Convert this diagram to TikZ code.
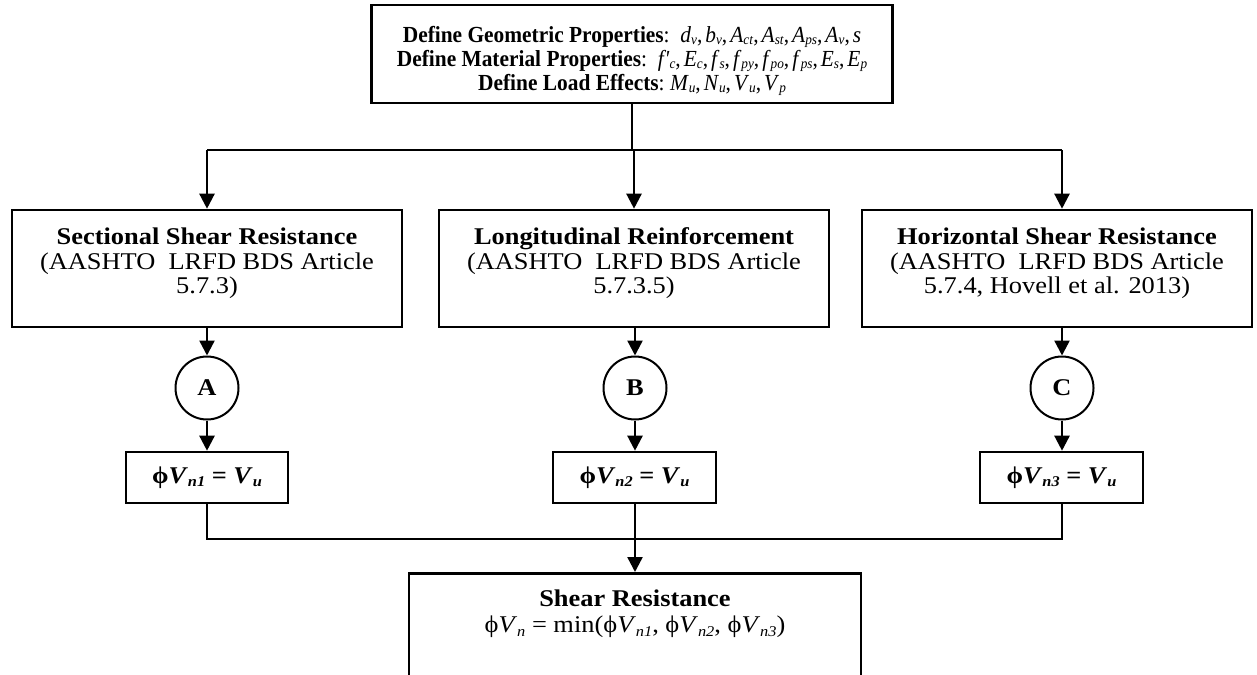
\documentclass[tikz,border=0pt]{standalone}
\usepackage{fontspec}
\usepackage{graphicx}
\setmainfont{Liberation Serif}
\newfontfamily\wf[FakeStretch=1.1]{Liberation Serif}
\newfontfamily\nf[FakeStretch=0.93]{Liberation Serif}
\usetikzlibrary{arrows.meta,calc}
% subscript helpers
\newcommand\sbs[1]{\raisebox{-0.28ex}{\scalebox{0.62}{#1}}}
\newcommand\iv[2]{\textit{#1}\sbs{\textit{#2}}}
\newcommand\biv[2]{\textbf{\textit{#1}\sbs{\textbf{\textit{#2}}}}}
\newcommand\cs{,\kern3pt}
\tikzset{
  box/.style={draw, line width=2.6pt, align=center, inner sep=0pt, font=\wf\fontsize{24}{24.5}\selectfont},
  topbox/.style={draw, line width=2.6pt, align=center, inner sep=0pt, font=\nf\fontsize{23}{24}\selectfont},
  circ/.style={draw, circle, line width=2pt, minimum size=63pt, inner sep=0pt, font=\wf\fontsize{24}{24.5}\selectfont\bfseries},
  conn/.style={line width=2.4pt},
  arr/.style={line width=2.4pt, -{Triangle[width=15pt,length=15pt]}}
}
\begin{document}
\begin{tikzpicture}[x=1pt,y=-1pt]
\clip (0,0) rectangle (1257,674);
\fill[white] (0,0) rectangle (1257,674);
\node[topbox, minimum width=521pt, minimum height=98pt] (top) at (632,54)
 {\rule{0pt}{30pt}\textbf{Define Geometric Properties}:\ \ \iv{d}{v}\cs\iv{b}{v}\cs\iv{A}{ct}\cs\iv{A}{st}\cs\iv{A}{ps}\cs\iv{A}{v}\cs\textit{s}\\
  \textbf{Define Material Properties}:\ \ \iv{f\kern1pt'}{c}\cs\iv{E}{c}\cs\iv{f}{s}\cs\iv{f}{py}\cs\iv{f}{po}\cs\iv{f}{ps}\cs\iv{E}{s}\cs\iv{E}{p}\\
  \textbf{Define Load Effects}:\ \iv{M}{u}\cs\iv{N}{u}\cs\iv{V}{u}\cs\iv{V}{p}};
\node[box, minimum width=390pt, minimum height=117pt] (sA) at (207,268.5)
 {\textbf{Sectional Shear Resistance}\\(AASHTO\ \ LRFD BDS Article\\5.7.3)\rule[-15pt]{0pt}{0pt}};
\node[box, minimum width=390pt, minimum height=117pt] (sB) at (634,268.5)
 {\textbf{Longitudinal Reinforcement}\\(AASHTO\ \ LRFD BDS Article\\5.7.3.5)\rule[-15pt]{0pt}{0pt}};
\node[box, minimum width=390pt, minimum height=117pt] (sC) at (1057,268.5)
 {\textbf{Horizontal Shear Resistance}\\(AASHTO\ \ LRFD BDS Article\\5.7.4, Hovell et al. 2013)\rule[-15pt]{0pt}{0pt}};
\node[circ] (cA) at (207,388) {A};
\node[circ] (cB) at (635,388) {B};
\node[circ] (cC) at (1062,388) {C};
\node[box, minimum width=162pt, minimum height=51pt] (pA) at (207,477.5)
 {\textbf{ϕ}\biv{V}{n1} \textbf{=} \biv{V}{u}};
\node[box, minimum width=163pt, minimum height=51pt] (pB) at (634.5,477.5)
 {\textbf{ϕ}\biv{V}{n2} \textbf{=} \biv{V}{u}};
\node[box, minimum width=163pt, minimum height=51pt] (pC) at (1061.5,477.5)
 {\textbf{ϕ}\biv{V}{n3} \textbf{=} \biv{V}{u}};
\node[box, anchor=north, minimum width=452pt, inner ysep=17pt, font=\wf\fontsize{24}{26}\selectfont] (bot) at (635,572)
 {\textbf{Shear Resistance}\\ϕ\iv{V}{n} = min(ϕ\iv{V}{n1}, ϕ\iv{V}{n2}, ϕ\iv{V}{n3})\rule[-40pt]{0pt}{0pt}};
\coordinate (jl) at (207,150);
\coordinate (jr) at (1062,150);
\draw[conn] (top.south) -- (top.south |- jl);
\draw[conn] (jl) -- (jr);
\draw[arr] (jl) -- (sA.north);
\draw[arr] (sB.north |- jl) -- (sB.north);
\draw[arr] (jr) -- (jr |- sC.north);
\draw[arr] (cA |- sA.south) -- (cA.north);
\draw[arr] (cB |- sB.south) -- (cB.north);
\draw[arr] (cC |- sC.south) -- (cC.north);
\draw[arr] (cA.south) -- (pA.north);
\draw[arr] (cB.south) -- (cB |- pB.north);
\draw[arr] (cC.south) -- (cC |- pC.north);
\coordinate (kl) at (207,539);
\coordinate (kr) at (1062,539);
\draw[conn] (pA.south) -- (kl) -- (kr) -- (kr |- pC.south);
\draw[arr] (bot.north |- pB.south) -- (bot.north);
\end{tikzpicture}
\end{document}
